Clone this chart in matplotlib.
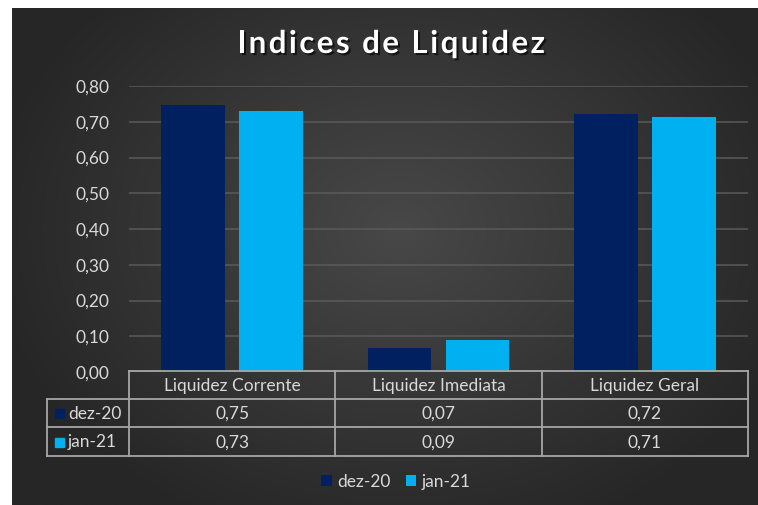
import numpy as np
import matplotlib
matplotlib.use("Agg")
import matplotlib.pyplot as plt
from matplotlib.patches import Rectangle
import matplotlib.patheffects as pe

categories = ["Liquidez Corrente", "Liquidez Imediata", "Liquidez Geral"]
series_names = ["dez-20", "jan-21"]
dez20 = [0.746, 0.066, 0.721]
jan21 = [0.731, 0.089, 0.712]
yticks = [0.0, 0.1, 0.2, 0.3, 0.4, 0.5, 0.6, 0.7, 0.8]
title = "Indices de Liquidez"
colors = ["#002060", "#00B0F0"]

W, H = 758, 505
plt.rcParams['font.family'] = ['Lato', 'DejaVu Sans']
fig = plt.figure(figsize=(W / 100, H / 100), dpi=100)
fig.patch.set_facecolor("white")

def fx(px):
    return px / W

def fy(py):
    return 1 - py / H

# background with radial gradient
bx0, by0, bx1, by1 = 12, 8, 758, 505
bg = fig.add_axes([fx(bx0), fy(by1), fx(bx1 - bx0), (by1 - by0) / H])
bg.set_axis_off()
nx, ny = 400, 270
xx, yy = np.meshgrid(np.linspace(bx0, bx1, nx), np.linspace(by0, by1, ny))
cx, cy = 400, 230
r = np.sqrt(((xx - cx) / 420) ** 2 + ((yy - cy) / 330) ** 2)
r = np.clip(r, 0, 1)
inner = np.array([0x48, 0x48, 0x48]) / 255
outer = np.array([0x26, 0x26, 0x26]) / 255
img = inner[None, None, :] * (1 - r[..., None]) + outer[None, None, :] * r[..., None]
bg.imshow(img, extent=[0, 1, 0, 1], aspect="auto", origin="upper")
bg.set_xlim(0, 1)
bg.set_ylim(0, 1)

# main plot axes
L, R, T, B = 129, 748, 86, 372
ax = fig.add_axes([fx(L), fy(B), fx(R - L), (B - T) / H])
ax.set_facecolor("none")
x = np.arange(len(categories))
bw = 0.31
off = 0.189
ax.bar(x - off, dez20, bw, color=colors[0], zorder=3, label=series_names[0])
ax.bar(x + off, jan21, bw, color=colors[1], zorder=3, label=series_names[1])
ax.set_xlim(-0.5, len(categories) - 0.5)
ax.set_ylim(0, 0.8)
ax.set_yticks(yticks)
ax.set_yticklabels([f"{v:.2f}".replace(".", ",") for v in yticks],
                   color="#d9d9d9", fontsize=12.5)
ax.tick_params(axis="y", length=0, pad=14)
ax.set_xticks([])
ax.grid(axis="y", color="#5a5a5a", linewidth=1.1, zorder=0)
for s in ax.spines.values():
    s.set_visible(False)

# title with letter spacing
over = fig.add_axes([0, 0, 1, 1])
over.set_axis_off()
over.set_xlim(0, W)
over.set_ylim(H, 0)
over.patch.set_alpha(0)
renderer = fig.canvas.get_renderer()
tfs = 22.5
shadow = [pe.withSimplePatchShadow(offset=(1.5, -1.5), shadow_rgbFace="black", alpha=0.6)]
widths = []
for ch in title:
    if ch == " ":
        t = fig.text(0, 0, "a a", fontsize=tfs, fontweight="bold")
        t2 = fig.text(0, 0, "aa", fontsize=tfs, fontweight="bold")
        w = t.get_window_extent(renderer).width - t2.get_window_extent(renderer).width
        t.remove(); t2.remove()
    else:
        t = fig.text(0, 0, ch, fontsize=tfs, fontweight="bold")
        w = t.get_window_extent(renderer).width
        t.remove()
    widths.append(w)
target = 308
spacing = (target - sum(widths)) / (len(title) - 1)
xpos = 391 - target / 2
for ch, w in zip(title, widths):
    if ch != " ":
        over.text(xpos, 44, ch, ha="left", va="center", color="white",
                  fontsize=tfs, fontweight="bold", path_effects=shadow)
    xpos += w + spacing

# table
tab = over
lc = "#a6a6a6"
lw = 1.3
xl, xc0, xe = 47, 129, 748
y0, y1, y2, y3 = 371, 399, 427, 456
colw = (xe - xc0) / len(categories)
tab.plot([xc0, xe], [y0, y0], color=lc, lw=lw)
for yv in (y1, y2, y3):
    tab.plot([xl, xe], [yv, yv], color=lc, lw=lw)
tab.plot([xl, xl], [y1, y3], color=lc, lw=lw)
for i in range(len(categories) + 1):
    xv = xc0 + i * colw
    tab.plot([xv, xv], [y0, y3], color=lc, lw=lw)
tc = "#d9d9d9"
fs = 12.5
for i, c in enumerate(categories):
    tab.text(xc0 + (i + 0.5) * colw, (y0 + y1) / 2 + 1, c, ha="center", va="center", color=tc, fontsize=fs)
for j, (name, vals) in enumerate(zip(series_names, [dez20, jan21])):
    yc = [(y1 + y2) / 2, (y2 + y3) / 2][j] + 1
    tab.add_patch(Rectangle((55, yc - 5), 9, 9, color=colors[j]))
    tab.text(68, yc, name, ha="left", va="center", color=tc, fontsize=fs)
    for i, v in enumerate(vals):
        tab.text(xc0 + (i + 0.5) * colw, yc, f"{v:.2f}".replace(".", ","), ha="center",
                 va="center", color=tc, fontsize=fs)

# legend
leg = fig.legend(handles=ax.containers, labels=series_names, loc="center",
                 bbox_to_anchor=(fx(396), fy(482)), ncol=2, frameon=False,
                 fontsize=fs, handlelength=0.6, handleheight=0.6, handletextpad=0.3,
                 columnspacing=0.9)
for t in leg.get_texts():
    t.set_color(tc)

fig.savefig("out.png", dpi=100, facecolor=fig.get_facecolor())
